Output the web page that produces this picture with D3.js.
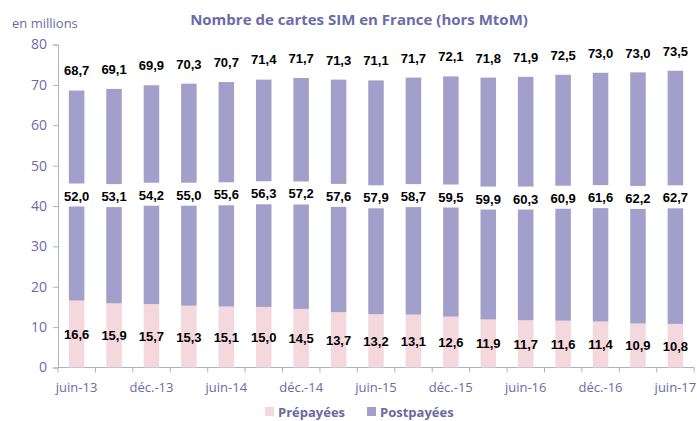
<!DOCTYPE html>
<html>
<head>
<meta charset="utf-8">
<script src="https://cdn.jsdelivr.net/npm/d3@7"></script>
<style>
  body { margin: 0; background: #fff; }
  svg { display: block; }
</style>
</head>
<body>
<svg id="chart" width="697" height="421"></svg>
<script>
// quarterly dates, label shown every other one
var dates = ["juin-13", "sept.-13", "déc.-13", "mars-14", "juin-14", "sept.-14", "déc.-14", "mars-15",
             "juin-15", "sept.-15", "déc.-15", "mars-16", "juin-16", "sept.-16", "déc.-16", "mars-17", "juin-17"];
var prepaid  = [16.6, 15.9, 15.7, 15.3, 15.1, 15.0, 14.5, 13.7, 13.2, 13.1, 12.6, 11.9, 11.7, 11.6, 11.4, 10.9, 10.8];
var postpaid = [52.0, 53.1, 54.2, 55.0, 55.6, 56.3, 57.2, 57.6, 57.9, 58.7, 59.5, 59.9, 60.3, 60.9, 61.6, 62.2, 62.7];
var totals   = [68.7, 69.1, 69.9, 70.3, 70.7, 71.4, 71.7, 71.3, 71.1, 71.7, 72.1, 71.8, 71.9, 72.5, 73.0, 73.0, 73.5];
var yTicks = [0, 10, 20, 30, 40, 50, 60, 70, 80];

var pink = "#f4d8dd", purple = "#a29fcb", textBlue = "#6b6ba6", axisCol = "#aab3c6";
var fmt = function(v) { return v.toFixed(1).replace(".", ","); };

var svg = d3.select("#chart");

var x = d3.scaleBand().domain(dates).range([58, 694]).paddingInner(0.585).paddingOuter(0.29);
var y = d3.scaleLinear().domain([0, 80]).range([367.5, 44.5]);

// title + unit
svg.append("text").attr("x", 359).attr("y", 25).attr("text-anchor", "middle")
  .attr("font-family", "Open Sans").attr("font-weight", "bold").attr("font-size", 15)
  .attr("fill", textBlue).text("Nombre de cartes SIM en France (hors MtoM)");
svg.append("text").attr("x", 12).attr("y", 28)
  .attr("font-family", "Open Sans").attr("font-size", 13)
  .attr("fill", textBlue).text("en millions");

// y axis
var yAxis = svg.append("g").attr("transform", "translate(58,0)")
  .call(d3.axisLeft(y).tickValues(yTicks).tickSize(5).tickPadding(6));
yAxis.select(".domain").attr("stroke", axisCol);
yAxis.selectAll(".tick line").attr("stroke", axisCol);
yAxis.selectAll("text").attr("font-family", "Open Sans").attr("font-size", 14).attr("fill", textBlue);

// x axis: ticks on category boundaries
var step = x.step();
var x0 = 58;
svg.append("line").attr("x1", x0).attr("x2", x0 + step * dates.length)
  .attr("y1", y(0)).attr("y2", y(0)).attr("stroke", axisCol);
svg.selectAll("line.xt").data(d3.range(dates.length + 1)).enter().append("line")
  .attr("class", "xt")
  .attr("x1", function(i) { return x0 + i * step; }).attr("x2", function(i) { return x0 + i * step; })
  .attr("y1", y(0)).attr("y2", y(0) + 5).attr("stroke", axisCol);
svg.selectAll("text.xl").data(dates.filter(function(d, i) { return i % 2 === 0; })).enter().append("text")
  .attr("class", "xl")
  .attr("x", function(d) { return x(d) + x.bandwidth() / 2; }).attr("y", 392)
  .attr("text-anchor", "middle").attr("font-family", "Open Sans").attr("font-size", 13)
  .attr("fill", textBlue).text(function(d) { return d; });

// bars
var rows = dates.map(function(d, i) { return { d: d, pre: prepaid[i], post: postpaid[i], tot: totals[i] }; });
var g = svg.append("g");
g.selectAll("rect.pre").data(rows).enter().append("rect")
  .attr("x", function(r) { return x(r.d); }).attr("width", x.bandwidth())
  .attr("y", function(r) { return y(r.pre); })
  .attr("height", function(r) { return y(0) - y(r.pre); })
  .attr("fill", pink);
g.selectAll("rect.post").data(rows).enter().append("rect")
  .attr("x", function(r) { return x(r.d); }).attr("width", x.bandwidth())
  .attr("y", function(r) { return y(r.pre + r.post); })
  .attr("height", function(r) { return y(r.pre) - y(r.pre + r.post); })
  .attr("fill", purple);

// labels
function cx(r) { return x(r.d) + x.bandwidth() / 2; }
var lab = svg.append("g").attr("font-family", "Liberation Sans, Arial").attr("font-weight", "bold")
  .attr("font-size", 13).attr("fill", "#000").attr("text-anchor", "middle");

lab.selectAll("rect.bg").data(rows).enter().append("rect")
  .attr("x", function(r) { return cx(r) - 17; }).attr("width", 34)
  .attr("y", function(r) { return y(r.pre + r.post / 2) - 12; }).attr("height", 23)
  .attr("fill", "#fff");
lab.selectAll("text.post").data(rows).enter().append("text")
  .attr("x", cx).attr("y", function(r) { return y(r.pre + r.post / 2) + 5; })
  .text(function(r) { return fmt(r.post); });
lab.selectAll("text.pre").data(rows).enter().append("text")
  .attr("x", cx).attr("y", function(r) { return y(r.pre / 2) + 5; })
  .text(function(r) { return fmt(r.pre); });
lab.selectAll("text.tot").data(rows).enter().append("text")
  .attr("x", cx).attr("y", function(r) { return y(r.tot) - 15; })
  .text(function(r) { return fmt(r.tot); });

// legend
var legend = [["Prépayées", pink, 265], ["Postpayées", purple, 367]];
var lg = svg.selectAll("g.lg").data(legend).enter().append("g")
  .attr("transform", function(l) { return "translate(" + l[2] + ",407)"; });
lg.append("rect").attr("width", 9).attr("height", 9).attr("fill", function(l) { return l[1]; });
lg.append("text").attr("x", 13).attr("y", 10).attr("font-family", "Open Sans").attr("font-weight", "bold")
  .attr("font-size", 13).attr("fill", "#6a6a9c").text(function(l) { return l[0]; });
</script>
</body>
</html>
